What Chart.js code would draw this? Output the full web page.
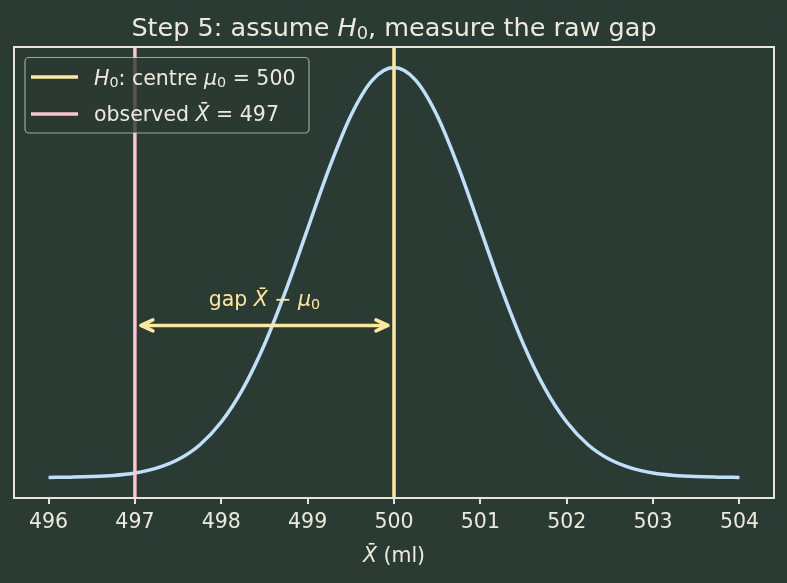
<!DOCTYPE html>
<html>
<head>
<meta charset="utf-8">
<style>
  html, body { margin: 0; padding: 0; background: #2a3b33; }
  canvas { display: block; }
</style>
<script src="https://cdn.jsdelivr.net/npm/chart.js@4.4.1/dist/chart.umd.min.js"></script>
</head>
<body>
<canvas id="c" width="787" height="583"></canvas>
<script>
// ---- data ----
const xValues = [496, 496.25, 496.5, 496.75, 497, 497.25, 497.5, 497.75, 498, 498.25, 498.5, 498.75,
                 499, 499.25, 499.5, 499.75, 500, 500.25, 500.5, 500.75, 501, 501.25, 501.5, 501.75,
                 502, 502.25, 502.5, 502.75, 503, 503.25, 503.5, 503.75, 504];
const density = [0.0001, 0.0004, 0.0009, 0.0020, 0.0044, 0.0091, 0.0175, 0.0317, 0.0540, 0.0863, 0.1295, 0.1826,
                 0.2420, 0.3011, 0.3521, 0.3867, 0.3989, 0.3867, 0.3521, 0.3011, 0.2420, 0.1826, 0.1295, 0.0863,
                 0.0540, 0.0317, 0.0175, 0.0091, 0.0044, 0.0020, 0.0009, 0.0004, 0.0001];
const xTicks = [496, 497, 498, 499, 500, 501, 502, 503, 504];
const mu0 = 500;
const xbarObs = 497;
const gapArrowY = 0.148;
const xRange = [495.6, 504.4];
const yRange = [-0.0199, 0.4189];

// ---- styles ----
const BG = '#2a3b33';
const FG = '#ede9dc';
const YELLOW = '#ffe79c';
const PINK = '#ffc3d1';
const BLUE = '#bfe0fa';
const FONT = '"DejaVu Sans"';
const FS = 20.5;

function segFont(s, size) {
  const sz = s.sub ? size * 0.7 : size;
  return (s.it ? 'oblique ' : '') + sz + 'px ' + FONT;
}
function drawRich(ctx, segs, x, y, size, color, align) {
  ctx.save();
  ctx.fillStyle = color;
  ctx.strokeStyle = color;
  ctx.textBaseline = 'alphabetic';
  ctx.textAlign = 'left';
  const widths = segs.map(s => { ctx.font = segFont(s, size); return ctx.measureText(s.t).width; });
  const total = widths.reduce((a, b) => a + b, 0);
  let cx = align === 'center' ? x - total / 2 : (align === 'right' ? x - total : x);
  segs.forEach((s, i) => {
    ctx.font = segFont(s, size);
    const dy = s.sub ? size * 0.12 : 0;
    ctx.fillText(s.t, cx, y + dy);
    if (s.bar) {
      const w = widths[i];
      const by = y - size * 0.729 - size * 0.16;
      const mid = cx + w * 0.62;
      ctx.lineWidth = size * 0.08;
      ctx.beginPath();
      ctx.moveTo(mid - size * 0.14, by);
      ctx.lineTo(mid + size * 0.14, by);
      ctx.stroke();
    }
    cx += widths[i];
  });
  ctx.restore();
}

const decor = {
  id: 'decor',
  beforeDraw(chart) {
    const ctx = chart.ctx;
    ctx.save();
    ctx.fillStyle = BG;
    ctx.fillRect(0, 0, chart.width, chart.height);
    ctx.restore();
  },
  afterDatasetsDraw(chart) {
    const ctx = chart.ctx;
    const xs = chart.scales.x, ys = chart.scales.y;
    const ca = chart.chartArea;

    // gap arrow
    const xa = xs.getPixelForValue(xbarObs) + 6;
    const xb = xs.getPixelForValue(mu0) - 6;
    const ya = ys.getPixelForValue(gapArrowY);
    ctx.save();
    ctx.strokeStyle = YELLOW;
    ctx.lineWidth = 3.5;
    ctx.lineCap = 'round';
    ctx.lineJoin = 'round';
    ctx.beginPath();
    ctx.moveTo(xa, ya); ctx.lineTo(xb, ya);
    ctx.moveTo(xa + 12, ya - 5.5); ctx.lineTo(xa, ya); ctx.lineTo(xa + 12, ya + 5.5);
    ctx.moveTo(xb - 12, ya - 5.5); ctx.lineTo(xb, ya); ctx.lineTo(xb - 12, ya + 5.5);
    ctx.stroke();
    ctx.restore();
    const xm = xs.getPixelForValue((xbarObs + mu0) / 2);
    drawRich(ctx, [
      { t: 'gap ' },
      { t: 'X', it: true, bar: true },
      { t: ' \u2212 ' },
      { t: '\u03bc', it: true },
      { t: '0', sub: true }
    ], xm, ya - 19, FS, YELLOW, 'center');

    // frame
    ctx.save();
    ctx.strokeStyle = '#e9e5d8';
    ctx.lineWidth = 2;
    ctx.strokeRect(ca.left, ca.top, ca.right - ca.left, ca.bottom - ca.top);
    ctx.restore();

    // legend
    const lx = 25, ly = 57.5, lw = 284, lh = 75.5, r = 4;
    ctx.save();
    ctx.beginPath();
    ctx.moveTo(lx + r, ly);
    ctx.arcTo(lx + lw, ly, lx + lw, ly + lh, r);
    ctx.arcTo(lx + lw, ly + lh, lx, ly + lh, r);
    ctx.arcTo(lx, ly + lh, lx, ly, r);
    ctx.arcTo(lx, ly, lx + lw, ly, r);
    ctx.closePath();
    ctx.fillStyle = 'rgba(42,59,51,0.8)';
    ctx.fill();
    ctx.strokeStyle = 'rgba(225,222,210,0.65)';
    ctx.lineWidth = 1.2;
    ctx.stroke();
    ctx.lineWidth = 3.5;
    ctx.strokeStyle = YELLOW;
    ctx.beginPath(); ctx.moveTo(31, 77); ctx.lineTo(78, 77); ctx.stroke();
    ctx.strokeStyle = PINK;
    ctx.beginPath(); ctx.moveTo(31, 114); ctx.lineTo(78, 114); ctx.stroke();
    ctx.restore();
    drawRich(ctx, [
      { t: 'H', it: true }, { t: '0', sub: true }, { t: ': centre ' },
      { t: '\u03bc', it: true }, { t: '0', sub: true }, { t: ' = ' + mu0 }
    ], 94, 85, FS, FG, 'left');
    drawRich(ctx, [
      { t: 'observed ' }, { t: 'X', it: true, bar: true }, { t: ' = ' + xbarObs }
    ], 94, 121, FS, FG, 'left');
  },
  afterDraw(chart) {
    const ctx = chart.ctx;
    const ca = chart.chartArea;
    const cx = (ca.left + ca.right) / 2;
    drawRich(ctx, [
      { t: 'Step 5: assume ' }, { t: 'H', it: true }, { t: '0', sub: true },
      { t: ', measure the raw gap' }
    ], cx, 36, 25.5, FG, 'center');
    drawRich(ctx, [
      { t: 'X', it: true, bar: true }, { t: ' (ml)' }
    ], cx, 562, FS, FG, 'center');
  }
};

new Chart(document.getElementById('c'), {
  type: 'line',
  data: {
    datasets: [
      {
        label: 'H0: centre mu0 = 500',
        data: [{ x: mu0, y: yRange[0] }, { x: mu0, y: yRange[1] }],
        borderColor: YELLOW, borderWidth: 3.5, pointRadius: 0, order: 1
      },
      {
        label: 'observed Xbar = 497',
        data: [{ x: xbarObs, y: yRange[0] }, { x: xbarObs, y: yRange[1] }],
        borderColor: PINK, borderWidth: 3.5, pointRadius: 0, order: 2
      },
      {
        label: 'sampling distribution',
        data: xValues.map((x, i) => ({ x: x, y: density[i] })),
        borderColor: BLUE, borderWidth: 3.5, pointRadius: 0,
        cubicInterpolationMode: 'monotone', order: 3
      }
    ]
  },
  options: {
    responsive: false,
    animation: false,
    devicePixelRatio: 1,
    layout: { padding: { left: 14, right: 13, top: 47, bottom: 0 } },
    plugins: { legend: { display: false }, title: { display: false }, tooltip: { enabled: false } },
    scales: {
      x: {
        type: 'linear', min: xRange[0], max: xRange[1],
        afterBuildTicks: s => { s.ticks = xTicks.map(v => ({ value: v })); },
        afterFit: s => { s.height = 85; },
        border: { display: false },
        grid: { display: true, drawOnChartArea: false, drawTicks: true, tickLength: 6, tickWidth: 2, color: '#e6e2d6', lineWidth: 2 },
        ticks: { color: FG, font: { family: 'DejaVu Sans', size: FS }, padding: 6, maxRotation: 0, autoSkip: false,
                 callback: v => String(v) }
      },
      y: { type: 'linear', display: false, min: yRange[0], max: yRange[1] }
    }
  },
  plugins: [decor]
});
</script>
</body>
</html>
